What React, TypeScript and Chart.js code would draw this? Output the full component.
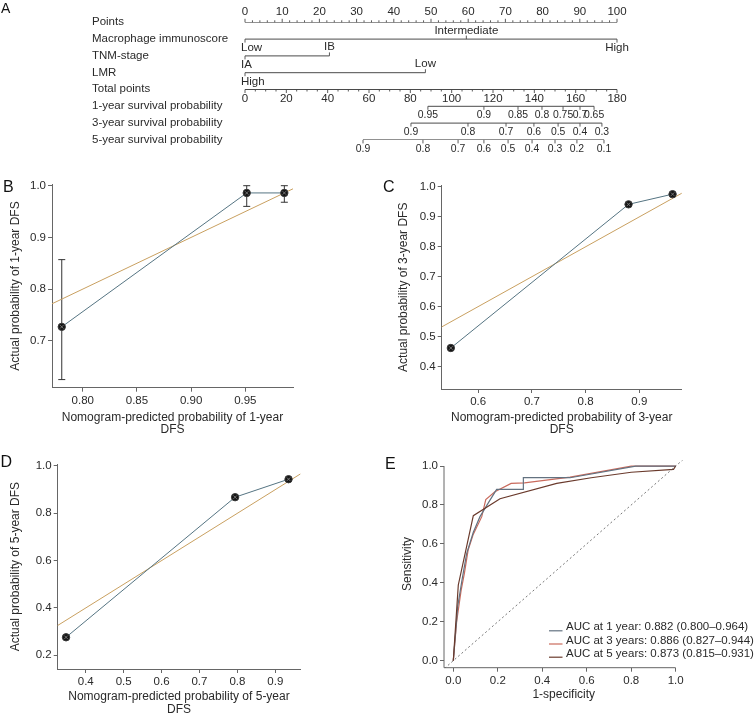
import React, { useEffect, useRef } from 'react';
import { Chart, registerables } from 'chart.js';
Chart.register(...registerables);

const FONT = "'Liberation Sans', Arial, Helvetica, sans-serif";
Chart.defaults.font.family = FONT;
const CW = 755;
const CH = 730;
const AXIS = '#666666';
const TEXT = '#2a2a2a';
const BLUE = '#557482';
const TAN = '#c9a060';

// ---------- Panel A: nomogram ----------
const rowNames = [
  'Points',
  'Macrophage immunoscore',
  'TNM-stage',
  'LMR',
  'Total points',
  '1-year survival probability',
  '3-year survival probability',
  '5-year survival probability',
];
const pointsTicks = [0, 10, 20, 30, 40, 50, 60, 70, 80, 90, 100];
const macrophageLevels = ['Low', 'Intermediate', 'High'];
const macrophagePoints = [0, 59.5, 100];
const macrophageSide = ['below', 'above', 'below'];
const tnmLevels = ['IA', 'IB'];
const tnmPoints = [0, 22.7];
const tnmSide = ['below', 'above'];
const lmrLevels = ['High', 'Low'];
const lmrPoints = [0, 48.5];
const lmrSide = ['below', 'above'];
const totalPointsTicks = [0, 20, 40, 60, 80, 100, 120, 140, 160, 180];
const surv1Labels = ['0.95', '0.9', '0.85', '0.8', '0.75', '0.7', '0.65'];
const surv1Total = [88.5, 115.6, 132.1, 143.7, 153.9, 162.1, 168.9];
const surv3Labels = ['0.9', '0.8', '0.7', '0.6', '0.5', '0.4', '0.3'];
const surv3Total = [80.3, 107.9, 126.3, 139.8, 151.5, 162.1, 172.7];
const surv5Labels = ['0.9', '0.8', '0.7', '0.6', '0.5', '0.4', '0.3', '0.2', '0.1'];
const surv5Total = [57.1, 86.1, 103.1, 115.6, 127.3, 138.9, 150.0, 160.6, 173.7];

// ---------- Panel B: 1-year calibration ----------
const bPred = [0.7806, 0.9513, 0.986];
const bObs = [0.727, 0.986, 0.986];
const bLow = [0.625, 0.96, 0.968];
const bHigh = [0.857, 1.0, 1.0];
const bXTicks = ['0.80', '0.85', '0.90', '0.95'];
const bYTicks = ['0.7', '0.8', '0.9', '1.0'];

// ---------- Panel C: 3-year calibration ----------
const cPred = [0.549, 0.88, 0.962];
const cObs = [0.4615, 0.942, 0.976];
const cXTicks = ['0.6', '0.7', '0.8', '0.9'];
const cYTicks = ['0.4', '0.5', '0.6', '0.7', '0.8', '0.9', '1.0'];

// ---------- Panel D: 5-year calibration ----------
const dPred = [0.348, 0.794, 0.935];
const dObs = [0.276, 0.868, 0.944];
const dXTicks = ['0.4', '0.5', '0.6', '0.7', '0.8', '0.9'];
const dYTicks = ['0.2', '0.4', '0.6', '0.8', '1.0'];

const identity = [0, 1];

// ---------- Panel E: ROC ----------
const roc1X = [0, 0.02, 0.04, 0.06, 0.09, 0.12, 0.165, 0.195, 0.315, 0.315, 0.525, 0.82, 1.0];
const roc1Y = [0, 0.28, 0.42, 0.55, 0.66, 0.74, 0.825, 0.88, 0.88, 0.94, 0.94, 1.0, 1.0];
const roc3X = [0, 0.015, 0.035, 0.05, 0.067, 0.09, 0.128, 0.146, 0.187, 0.26, 0.32, 0.525, 0.8, 1.0];
const roc3Y = [0, 0.2, 0.36, 0.45, 0.57, 0.65, 0.74, 0.828, 0.868, 0.911, 0.914, 0.943, 1.0, 1.0];
const roc5X = [0, 0.0225, 0.09, 0.21, 0.465, 0.62, 0.8, 0.99, 1.0];
const roc5Y = [0, 0.389, 0.745, 0.832, 0.911, 0.94, 0.968, 0.983, 1.0];
const rocLabels = [
  'AUC at 1 year: 0.882 (0.800\u20130.964)',
  'AUC at 3 years: 0.886 (0.827\u20130.944)',
  'AUC at 5 years: 0.873 (0.815\u20130.931)',
];
const rocColors = ['#637280', '#c96a5c', '#6a3a2c'];
const eTicks = ['0.0', '0.2', '0.4', '0.6', '0.8', '1.0'];
const diagonal = [-0.1, 1.1];

type Pad = { left: number; top: number; right: number; bottom: number };
type Tick = { v: number; label?: string; side: 'above' | 'below'; major: boolean };
type Row = { scale: 'x' | 'xt'; start: number; end: number; ticks: Tick[]; off: number; size: number };

function buildRows(): Row[] {
  const rows: Row[] = [];
  const pTicks: Tick[] = pointsTicks.map((v) => ({ v, label: String(v), side: 'above', major: true }));
  for (let v = 0; v <= 100; v += 2) if (v % 10 !== 0) pTicks.push({ v, side: 'above', major: false });
  rows.push({ scale: 'x', start: 0, end: 100, ticks: pTicks, off: 10.5, size: 11.5 });
  const cat = (lv: string[], pts: number[], side: string[]): Row => ({
    scale: 'x',
    start: pts[0],
    end: pts[pts.length - 1],
    ticks: lv.map((l, i) => ({ v: pts[i], label: l, side: side[i] as 'above' | 'below', major: true })),
    off: 8.7,
    size: 11.5,
  });
  rows.push(cat(macrophageLevels, macrophagePoints, macrophageSide));
  rows.push(cat(tnmLevels, tnmPoints, tnmSide));
  rows.push(cat(lmrLevels, lmrPoints, lmrSide));
  const tTicks: Tick[] = totalPointsTicks.map((v) => ({ v, label: String(v), side: 'below', major: true }));
  for (let v = 0; v <= 180; v += 5) if (v % 20 !== 0) tTicks.push({ v, side: 'below', major: false });
  rows.push({ scale: 'xt', start: 0, end: 180, ticks: tTicks, off: 9, size: 11.5 });
  const surv = (labels: string[], tot: number[]): Row => ({
    scale: 'xt',
    start: tot[0],
    end: tot[tot.length - 1],
    ticks: labels.map((l, i) => ({ v: tot[i], label: l, side: 'below', major: true })),
    off: 9,
    size: 10.4,
  });
  rows.push(surv(surv1Labels, surv1Total));
  rows.push(surv(surv3Labels, surv3Total));
  rows.push(surv(surv5Labels, surv5Total));
  return rows;
}

const letters = [
  { t: 'A', x: 1, y: 13.3, size: 14 },
  { t: 'B', x: 3, y: 192, size: 16 },
  { t: 'C', x: 383, y: 192, size: 16 },
  { t: 'D', x: 0.5, y: 467, size: 16 },
  { t: 'E', x: 385, y: 469, size: 16 },
];

function nomogramConfig(): any {
  const rows = buildRows();
  const datasets = rows.map((r, i) => ({
    data: [
      { x: r.start, y: i },
      { x: r.end, y: i },
    ],
    xAxisID: r.scale,
    borderColor: '#4a4a4a',
    borderWidth: 1,
    pointRadius: 0,
    showLine: true,
  }));
  const plugin = {
    id: 'nomo',
    afterDatasetsDraw(chart: any) {
      const ctx = chart.ctx;
      const ys = chart.scales.y;
      const left = chart.chartArea.left;
      ctx.save();
      ctx.fillStyle = TEXT;
      ctx.font = `11.5px ${FONT}`;
      ctx.textBaseline = 'middle';
      rowNames.forEach((n, i) => {
        ctx.textAlign = 'left';
        ctx.fillText(n, 92, ys.getPixelForValue(i) - 0.3);
      });
      ctx.strokeStyle = '#4a4a4a';
      ctx.lineWidth = 0.9;
      rows.forEach((r, i) => {
        const sc = chart.scales[r.scale];
        const py = ys.getPixelForValue(i);
        ctx.font = `${r.size}px ${FONT}`;
        r.ticks.forEach((t) => {
          const px = sc.getPixelForValue(t.v);
          const dir = t.side === 'above' ? -1 : 1;
          const len = t.major ? 3.5 : 2;
          ctx.beginPath();
          ctx.moveTo(px, py);
          ctx.lineTo(px, py + dir * len);
          ctx.stroke();
          if (t.label) {
            const w = ctx.measureText(t.label).width;
            let cx = px;
            if (cx - w / 2 < left - 4) cx = left - 4 + w / 2;
            ctx.textAlign = 'center';
            ctx.fillText(t.label, cx, py + dir * r.off);
          }
        });
      });
      letters.forEach((l) => {
        ctx.font = `${l.size}px ${FONT}`;
        ctx.textAlign = 'left';
        ctx.textBaseline = 'alphabetic';
        ctx.fillStyle = '#111';
        ctx.fillText(l.t, l.x, l.y);
      });
      ctx.restore();
    },
  };
  return {
    type: 'scatter',
    data: { datasets },
    options: {
      animation: false,
      responsive: false,
      events: [],
      layout: { padding: { left: 245, right: 138, top: 22.3, bottom: CH - 139.9 } },
      plugins: { legend: { display: false }, tooltip: { enabled: false } },
      scales: {
        x: { type: 'linear', min: 0, max: 100, display: false },
        xt: { type: 'linear', min: 0, max: 180, display: false },
        y: { type: 'linear', min: 0, max: 7, reverse: true, display: false },
      },
    },
    plugins: [plugin],
  };
}

type Spec = {
  xMin: number;
  xMax: number;
  yMin: number;
  yMax: number;
  xTicks: string[];
  yTicks: string[];
  xTitle: string | string[];
  yTitle: string;
  pad: Pad;
  yAxisW: number;
  xAxisH: number;
  border: boolean;
};

function axis(min: number, max: number, labels: string[], title: string | string[], fit: (s: any) => void, border: boolean) {
  return {
    type: 'linear',
    min,
    max,
    afterBuildTicks: (s: any) => {
      s.ticks = labels.map((l) => ({ value: parseFloat(l) }));
    },
    afterFit: fit,
    ticks: {
      callback: (_v: any, i: number) => labels[i],
      font: { size: 11.5, family: FONT },
      color: TEXT,
      padding: 2,
      autoSkip: false,
      maxRotation: 0,
      minRotation: 0,
    },
    grid: { display: true, drawOnChartArea: false, drawTicks: true, tickLength: 4, color: AXIS, tickWidth: 1 },
    border: { display: border, color: AXIS, width: 1 },
    title: { display: true, text: title, font: { size: 12, family: FONT, lineHeight: 1.05 }, color: TEXT, padding: 0 },
  };
}

function baseOptions(s: Spec): any {
  return {
    animation: false,
    responsive: false,
    events: [],
    layout: { padding: s.pad },
    plugins: { legend: { display: false }, tooltip: { enabled: false } },
    scales: {
      x: axis(s.xMin, s.xMax, s.xTicks, s.xTitle, (sc: any) => { sc.height = s.xAxisH; }, s.border),
      y: axis(s.yMin, s.yMax, s.yTicks, s.yTitle, (sc: any) => { sc.width = s.yAxisW; }, s.border),
    },
  };
}

function calConfig(s: Spec, pred: number[], obs: number[], lo?: number[], hi?: number[]): any {
  const plugins: any[] = [];
  if (lo && hi) {
    plugins.push({
      id: 'errbars',
      beforeDatasetsDraw(chart: any) {
        const ctx = chart.ctx;
        const xs = chart.scales.x;
        const ys = chart.scales.y;
        ctx.save();
        ctx.strokeStyle = '#333';
        ctx.lineWidth = 1;
        pred.forEach((p, i) => {
          const px = xs.getPixelForValue(p);
          const y1 = ys.getPixelForValue(lo[i]);
          const y2 = ys.getPixelForValue(hi[i]);
          ctx.beginPath();
          ctx.moveTo(px, y1);
          ctx.lineTo(px, y2);
          ctx.moveTo(px - 3.5, y1);
          ctx.lineTo(px + 3.5, y1);
          ctx.moveTo(px - 3.5, y2);
          ctx.lineTo(px + 3.5, y2);
          ctx.stroke();
        });
        ctx.restore();
      },
    });
  }
  const pts = pred.map((p, i) => ({ x: p, y: obs[i] }));
  return {
    type: 'scatter',
    data: {
      datasets: [
        {
          data: identity.map((v) => ({ x: v, y: v })),
          showLine: true,
          borderColor: TAN,
          borderWidth: 1,
          pointRadius: 0,
          order: 3,
        },
        {
          data: pts,
          showLine: true,
          borderColor: BLUE,
          borderWidth: 1,
          pointRadius: 3.7,
          pointBackgroundColor: '#151515',
          pointBorderColor: '#3a3a3a',
          pointBorderWidth: 1,
          order: 2,
        },
        {
          data: pts,
          showLine: false,
          pointStyle: 'crossRot',
          pointRadius: 2.4,
          pointBorderColor: '#8a8a8a',
          pointBorderWidth: 0.8,
          order: 1,
        },
      ],
    },
    options: baseOptions(s),
    plugins,
  };
}

function rocConfig(s: Spec): any {
  const mk = (xs: number[], ys: number[]) => xs.map((x, i) => ({ x, y: ys[i] }));
  const plugin = {
    id: 'rocExtras',
    afterDatasetsDraw(chart: any) {
      const ctx = chart.ctx;
      const xs = chart.scales.x;
      const ys = chart.scales.y;
      const ca = chart.chartArea;
      ctx.save();
      ctx.strokeStyle = AXIS;
      ctx.lineWidth = 1;
      ctx.beginPath();
      ctx.moveTo(ca.left, ys.getPixelForValue(1));
      ctx.lineTo(ca.left, ca.bottom);
      ctx.lineTo(xs.getPixelForValue(1), ca.bottom);
      ctx.stroke();
      ctx.font = `11.5px ${FONT}`;
      ctx.textBaseline = 'middle';
      ctx.textAlign = 'left';
      rocLabels.forEach((l, i) => {
        const ty = 627.3 + i * 13.2;
        ctx.strokeStyle = rocColors[i];
        ctx.lineWidth = 1.2;
        ctx.beginPath();
        ctx.moveTo(549, ty + 3.5);
        ctx.lineTo(562.5, ty + 3.5);
        ctx.stroke();
        ctx.fillStyle = TEXT;
        ctx.fillText(l, 566, ty);
      });
      ctx.restore();
    },
  };
  const line = (data: any[], color: string) => ({
    data,
    showLine: true,
    borderColor: color,
    borderWidth: 1.2,
    pointRadius: 0,
    tension: 0,
  });
  return {
    type: 'scatter',
    data: {
      datasets: [
        {
          data: diagonal.map((v) => ({ x: v, y: v })),
          showLine: true,
          borderColor: '#555',
          borderWidth: 0.8,
          borderDash: [2, 2.5],
          pointRadius: 0,
        },
        line(mk(roc5X, roc5Y), rocColors[2]),
        line(mk(roc1X, roc1Y), rocColors[0]),
        line(mk(roc3X, roc3Y), rocColors[1]),
      ],
    },
    options: baseOptions(s),
    plugins: [plugin],
  };
}

const specB: Spec = {
  xMin: 0.7716, xMax: 0.994, yMin: 0.6093, yMax: 1.0027,
  xTicks: bXTicks, yTicks: bYTicks,
  xTitle: ['Nomogram-predicted probability of 1-year', 'DFS'],
  yTitle: 'Actual probability of 1-year DFS',
  pad: { left: 9.5, top: 184.3, right: 462, bottom: 293.8 },
  yAxisW: 42.5, xAxisH: 48.5, border: true,
};
const specC: Spec = {
  xMin: 0.532, xMax: 0.979, yMin: 0.3244, yMax: 1.005,
  xTicks: cXTicks, yTicks: cYTicks,
  xTitle: ['Nomogram-predicted probability of 3-year', 'DFS'],
  yTitle: 'Actual probability of 3-year DFS',
  pad: { left: 397.7, top: 185.5, right: 73.3, bottom: 293.8 },
  yAxisW: 44, xAxisH: 47.2, border: true,
};
const specD: Spec = {
  xMin: 0.326, xMax: 0.966, yMin: 0.142, yMax: 1.007,
  xTicks: dXTicks, yTicks: dYTicks,
  xTitle: ['Nomogram-predicted probability of 5-year', 'DFS'],
  yTitle: 'Actual probability of 5-year DFS',
  pad: { left: 9.5, top: 464.3, right: 454.7, bottom: 14.4 },
  yAxisW: 48.2, xAxisH: 46.6, border: true,
};
const specE: Spec = {
  xMin: -0.0418, xMax: 1.035, yMin: -0.036, yMax: 1.03,
  xTicks: eTicks, yTicks: eTicks,
  xTitle: '1-specificity',
  yTitle: 'Sensitivity',
  pad: { left: 401.2, top: 460.2, right: 71.5, bottom: 28.7 },
  yAxisW: 42.8, xAxisH: 33.6, border: false,
};

export default function App() {
  const refs = [useRef<HTMLCanvasElement>(null), useRef<HTMLCanvasElement>(null), useRef<HTMLCanvasElement>(null), useRef<HTMLCanvasElement>(null), useRef<HTMLCanvasElement>(null)];
  useEffect(() => {
    const configs = [
      nomogramConfig(),
      calConfig(specB, bPred, bObs, bLow, bHigh),
      calConfig(specC, cPred, cObs),
      calConfig(specD, dPred, dObs),
      rocConfig(specE),
    ];
    const charts = configs.map((cfg, i) => new Chart(refs[i].current as HTMLCanvasElement, cfg));
    return () => charts.forEach((c) => c.destroy());
  }, []);
  return (
    <div style={{ position: 'fixed', left: 0, top: 0, width: CW, height: 714, overflow: 'hidden', background: '#fff' }}>
      {refs.map((r, i) => (
        <canvas key={i} ref={r} width={CW} height={CH} style={{ position: 'absolute', left: 0, top: 0, width: CW, height: CH }} />
      ))}
    </div>
  );
}
